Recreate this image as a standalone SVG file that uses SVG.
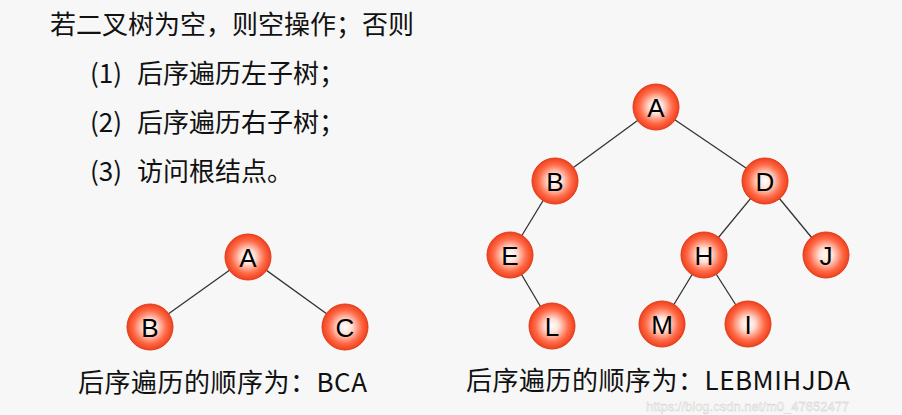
<svg xmlns="http://www.w3.org/2000/svg" width="902" height="415" viewBox="0 0 902 415">
<defs>
<radialGradient id="g" cx="50%" cy="50%" r="50%">
<stop offset="0" stop-color="#ffffff"/>
<stop offset="0.3" stop-color="#ffe0d6"/>
<stop offset="0.72" stop-color="#ff6a48"/>
<stop offset="1" stop-color="#f0401c"/>
</radialGradient>
</defs>
<style>
.n circle{fill:url(#g);stroke:#e03a18;stroke-width:1}
.n text{font-family:"Liberation Sans","Noto Sans CJK SC",sans-serif;font-size:26px;fill:#000;text-anchor:middle;dominant-baseline:central}
.t{font-family:"Noto Sans CJK SC","Liberation Sans",sans-serif;font-size:26px;fill:#111}
.e line{stroke:#333;stroke-width:1.3}
</style>
<rect width="902" height="415" fill="#f7f7f7"/>
<text class="t" x="50" y="34">若二叉树为空，则空操作；否则</text>
<text class="t" x="90" y="83">(1)</text><text class="t" x="137" y="83">后序遍历左子树；</text>
<text class="t" x="90" y="132">(2)</text><text class="t" x="137" y="132">后序遍历右子树；</text>
<text class="t" x="90" y="181">(3)</text><text class="t" x="137" y="181">访问根结点。</text>
<g class="e" id="edges">
<line x1="248" y1="257" x2="150" y2="327"/>
<line x1="248" y1="257" x2="345" y2="327"/>
<line x1="656" y1="107" x2="555" y2="181"/>
<line x1="656" y1="107" x2="765" y2="181"/>
<line x1="555" y1="181" x2="510" y2="255"/>
<line x1="765" y1="181" x2="704" y2="255"/>
<line x1="765" y1="181" x2="826" y2="255"/>
<line x1="510" y1="255" x2="552" y2="326"/>
<line x1="704" y1="255" x2="662" y2="324"/>
<line x1="704" y1="255" x2="748" y2="324"/>
</g>
<g class="n" id="sA"><circle cx="248" cy="257" r="23"/><text x="248" y="258">A</text></g>
<g class="n" id="sB"><circle cx="150" cy="327" r="23"/><text x="150" y="328">B</text></g>
<g class="n" id="sC"><circle cx="345" cy="327" r="23"/><text x="345" y="328">C</text></g>
<g class="n" id="A"><circle cx="656" cy="107" r="23"/><text x="656" y="108">A</text></g>
<g class="n" id="B"><circle cx="555" cy="181" r="23"/><text x="555" y="182">B</text></g>
<g class="n" id="D"><circle cx="765" cy="181" r="23"/><text x="765" y="182">D</text></g>
<g class="n" id="E"><circle cx="510" cy="255" r="23"/><text x="510" y="256">E</text></g>
<g class="n" id="H"><circle cx="704" cy="255" r="23"/><text x="704" y="256">H</text></g>
<g class="n" id="J"><circle cx="826" cy="255" r="23"/><text x="826" y="256">J</text></g>
<g class="n" id="L"><circle cx="552" cy="326" r="23"/><text x="552" y="327">L</text></g>
<g class="n" id="M"><circle cx="662" cy="324" r="23"/><text x="662" y="325">M</text></g>
<g class="n" id="I"><circle cx="748" cy="324" r="23"/><text x="748" y="325">I</text></g>
<text class="t" x="78" y="392" textLength="289" lengthAdjust="spacing">后序遍历的顺序为：BCA</text>
<text class="t" x="466" y="390" textLength="384" lengthAdjust="spacing">后序遍历的顺序为：LEBMIHJDA</text>
<text x="646" y="411" font-family="Liberation Sans,sans-serif" font-size="13" fill="#ffffff" fill-opacity="0.6" stroke="#cccccc" stroke-width="0.4">https://blog.csdn.net/m0_47652477</text>
</svg>
